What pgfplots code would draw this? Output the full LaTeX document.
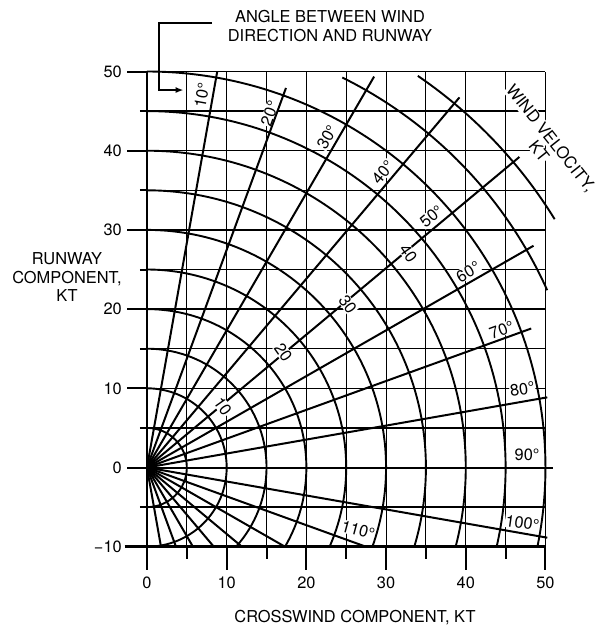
\documentclass[border=0pt]{standalone}
\usepackage{pgfplots}
\pgfplotsset{compat=1.18}
\usepackage{fontspec}
\setmainfont{TeX Gyre Heros}
\usetikzlibrary{arrows.meta}
\newcommand\cf{\fontsize{16.4bp}{19.5bp}\selectfont}
\begin{document}
\begin{tikzpicture}[font=\cf]
\begin{axis}[
  x=7.97bp, y=7.92bp,
  xmin=0, xmax=50, ymin=-10, ymax=50,
  clip=false,
  axis line style={draw=none},
  tick style={draw=none},
  major tick length=0pt,
  xtick={0,10,20,30,40,50},
  xticklabels={0,10,20,30,40,50},
  ytick={-10,0,10,20,30,40,50},
  yticklabels={−10,0,10,20,30,40,50},
  xticklabel style={anchor=north, inner sep=0pt, yshift=-30bp, font=\cf},
  yticklabel style={anchor=east, inner sep=0pt, xshift=-25bp, font=\cf},
  /pgf/number format/assume math mode=true,
]
% bounding box corners
\coordinate (BL) at (axis cs:-18.44,-20.01);
\coordinate (TR) at (axis cs:56.59,59.03);
% grid
\pgfplotsinvokeforeach{5,10,...,50}{\draw[line width=1bp] (axis cs:#1,-10) -- (axis cs:#1,50);}
\pgfplotsinvokeforeach{-5,0,...,50}{\draw[line width=1.5bp] (axis cs:0,#1) -- (axis cs:50,#1);}
% angle labels
\node[rotate=80, fill=white, inner sep=0.5bp] at (axis cs:6.9,47.0) {10°};
\node[rotate=70, fill=white, inner sep=0.5bp] at (axis cs:15.4,44.7) {20°};
\node[rotate=60, fill=white, inner sep=0.5bp] at (axis cs:22.6,41.7) {30°};
\node[rotate=50, fill=white, inner sep=0.5bp] at (axis cs:29.6,37.3) {40°};
\node[rotate=40, fill=white, inner sep=0.5bp] at (axis cs:35.7,31.7) {50°};
\node[rotate=30, fill=white, inner sep=0.5bp] at (axis cs:40.3,24.7) {60°};
\node[rotate=20, fill=white, inner sep=0.5bp] at (axis cs:44.5,17.4) {70°};
\node[rotate=8, fill=white, inner sep=0.5bp] at (axis cs:47.1,9.9) {80°};
\node[rotate=0, fill=white, inner sep=0.5bp] at (axis cs:47.7,1.6) {90°};
\node[rotate=-8, fill=white, inner sep=0.5bp] at (axis cs:47.1,-7.0) {100°};
\node[rotate=-15, fill=white, inner sep=0.5bp] at (axis cs:26.5,-7.9) {110°};
% wind velocity title (two lines)
\node[rotate=-51.6, fill=white, inner sep=0.5bp] at (axis cs:50.6,41.5) {WIND VELOCITY,};
\node[rotate=-51.6, fill=white, inner sep=0.5bp] at (axis cs:49.2,39.9) {KT};
% wind velocity arcs
\draw[line width=1.9bp] (axis cs:0,5) arc[start angle=90, end angle=-90, x radius=5*7.97bp, y radius=5*7.92bp];
\draw[line width=1.9bp] (axis cs:0,10) arc[start angle=90, end angle=-90, x radius=10*7.97bp, y radius=10*7.92bp];
\draw[line width=1.9bp] (axis cs:0,15) arc[start angle=90, end angle=-41.81, x radius=15*7.97bp, y radius=15*7.92bp];
\draw[line width=1.9bp] (axis cs:0,20) arc[start angle=90, end angle=-30, x radius=20*7.97bp, y radius=20*7.92bp];
\draw[line width=1.9bp] (axis cs:0,25) arc[start angle=90, end angle=-23.58, x radius=25*7.97bp, y radius=25*7.92bp];
\draw[line width=1.9bp] (axis cs:0,30) arc[start angle=90, end angle=-19.47, x radius=30*7.97bp, y radius=30*7.92bp];
\draw[line width=1.9bp] (axis cs:0,35) arc[start angle=90, end angle=-16.60, x radius=35*7.97bp, y radius=35*7.92bp];
\draw[line width=1.9bp] (axis cs:0,40) arc[start angle=90, end angle=-14.48, x radius=40*7.97bp, y radius=40*7.92bp];
\draw[line width=1.9bp] (axis cs:0,45) arc[start angle=90, end angle=-12.84, x radius=45*7.97bp, y radius=45*7.92bp];
\draw[line width=1.9bp] (axis cs:0,50) arc[start angle=90, end angle=-11.54, x radius=50*7.97bp, y radius=50*7.92bp];
\draw[line width=1.9bp] (axis cs:24.51,49.24) arc[start angle=63.5, end angle=24, x radius=55*7.97bp, y radius=55*7.92bp];
\draw[line width=1.9bp] (axis cs:33.98,49.45) arc[start angle=55.5, end angle=31.5, x radius=60*7.97bp, y radius=60*7.92bp];
% radial lines (angle between wind and runway)
\addplot[black, line width=2bp] coordinates {(0,0) (8.816,50.0)};
\addplot[black, line width=2bp] coordinates {(0,0) (17.44,47.92)};
\addplot[black, line width=2bp] coordinates {(0,0) (28.5,49.36)};
\addplot[black, line width=2bp] coordinates {(0,0) (39.21,46.73)};
\addplot[black, line width=2bp] coordinates {(0,0) (46.73,39.21)};
\addplot[black, line width=2bp] coordinates {(0,0) (48.50,28.0)};
\addplot[black, line width=2bp] coordinates {(0,0) (48.21,17.55)};
\addplot[black, line width=2bp] coordinates {(0,0) (50.23,8.86)};
\addplot[black, line width=2bp] coordinates {(0,0) (51,0)};
\addplot[black, line width=2bp] coordinates {(0,0) (50.23,-8.86)};
\addplot[black, line width=2bp] coordinates {(0,0) (27.47,-10)};
\addplot[black, line width=2bp] coordinates {(0,0) (17.32,-10)};
\addplot[black, line width=2bp] coordinates {(0,0) (11.92,-10)};
\addplot[black, line width=2bp] coordinates {(0,0) (8.39,-10)};
\addplot[black, line width=2bp] coordinates {(0,0) (5.77,-10)};
\addplot[black, line width=2bp] coordinates {(0,0) (3.64,-10)};
\addplot[black, line width=2bp] coordinates {(0,0) (1.76,-10)};
% wind velocity labels on the 50 degree line
\node[rotate=-55, fill=white, inner sep=0.5bp] at (axis cs:9.5,7.7) {10};
\node[rotate=-55, fill=white, inner sep=0.5bp] at (axis cs:17.1,14.5) {20};
\node[rotate=-55, fill=white, inner sep=0.5bp] at (axis cs:25.2,20.6) {30};
\node[rotate=-55, fill=white, inner sep=0.5bp] at (axis cs:32.8,27.0) {40};
% axes and ticks
\draw[line width=2.8bp] (axis cs:0,-10) -- (axis cs:0,50);
\draw[line width=2.8bp] (axis cs:-2.8,-10) -- (axis cs:50,-10);
\pgfplotsinvokeforeach{0,10,...,50}{\draw[line width=2bp] (axis cs:-2.5,#1) -- (axis cs:0,#1);}
\pgfplotsinvokeforeach{-5,5,...,45}{\draw[line width=2bp] (axis cs:-0.9,#1) -- (axis cs:0,#1);}
\pgfplotsinvokeforeach{0,10,...,50}{\draw[line width=2bp] (axis cs:#1,-10) -- (axis cs:#1,-12.9);}
\pgfplotsinvokeforeach{5,15,...,45}{\draw[line width=2bp] (axis cs:#1,-10) -- (axis cs:#1,-11.5);}
% titles
\node[align=center] at (axis cs:22.96,55.74) {ANGLE BETWEEN WIND\\DIRECTION AND RUNWAY};
\draw[line width=2bp, -{Latex[length=8bp,width=6bp]}] (axis cs:8.16,56.1) -- (axis cs:1.54,56.1) -- (axis cs:1.54,47.66) -- (axis cs:4.6,47.66);
\node[align=center, font=\fontsize{16.4bp}{18.5bp}\selectfont] at (axis cs:-10.04,24.05) {RUNWAY\\COMPONENT,\\KT};
\node at (axis cs:26.1,-19.0) {CROSSWIND COMPONENT, KT};
\end{axis}
\pgfresetboundingbox
\useasboundingbox (BL) rectangle (TR);
\end{tikzpicture}
\end{document}
